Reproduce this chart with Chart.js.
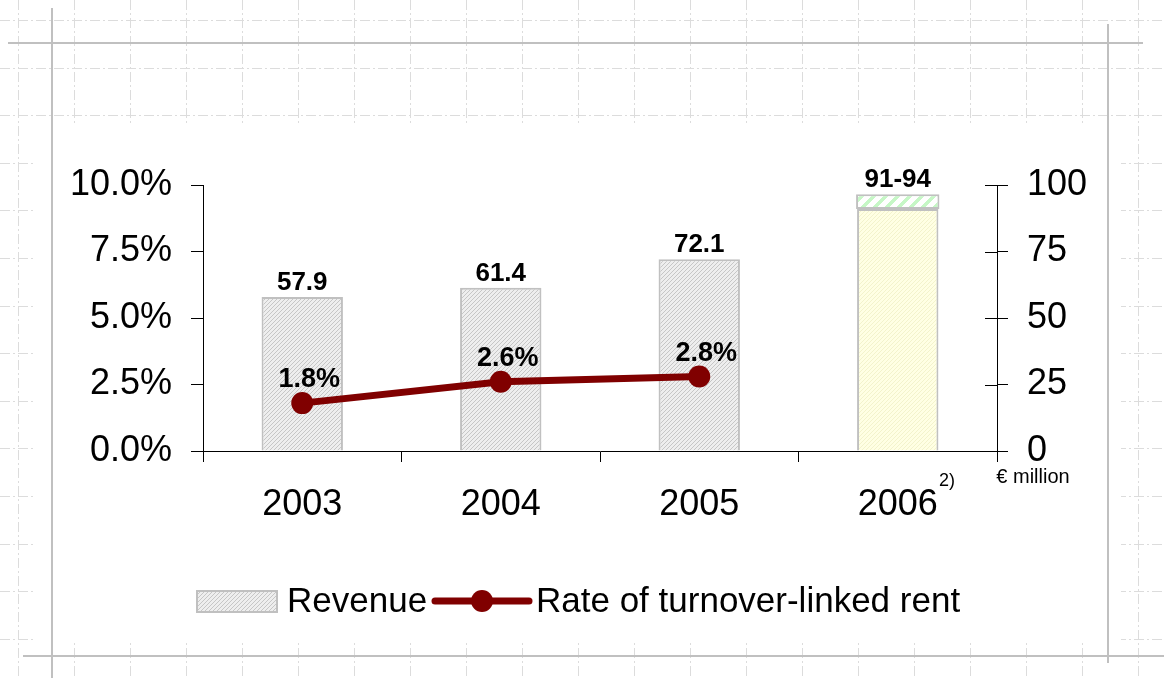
<!DOCTYPE html>
<html>
<head>
<meta charset="utf-8">
<script src="https://cdn.jsdelivr.net/npm/chart.js@4.4.1/dist/chart.umd.min.js"></script>
<style>
  html, body { margin: 0; padding: 0; background: #fff; }
  #wrap { width: 1164px; height: 678px; }
</style>
</head>
<body>
<div id="wrap"><canvas id="chart" width="1164" height="678"></canvas></div>
<script>
// Revenue and rent rate chart

const years = ["2003", "2004", "2005", "2006"];
const revenue = [57.9, 61.4, 72.1, 91];
const forecastRange = [null, null, null, [91, 96.5]];
const revenueLabels = ["57.9", "61.4", "72.1", "91-94"];
const rentRate = [1.8, 2.6, 2.8, null];

const FONT = "'Liberation Sans', Arial, sans-serif";

function makePattern(size, bg, fg, width) {
  const c = document.createElement("canvas");
  c.width = size;
  c.height = size;
  const g = c.getContext("2d");
  g.fillStyle = bg;
  g.fillRect(0, 0, size, size);
  g.fillStyle = fg;
  for (let i = 0; i < size; i++) {
    for (let w = 0; w < width; w++) {
      g.fillRect(i, (size - 1 - i + w) % size, 1, 1);
    }
  }
  return g.createPattern(c, "repeat");
}

const grayHatch = makePattern(4, "#eeeeee", "#c6c6c6", 1);
const yellowHatch = makePattern(4, "#ffffe4", "#f3f3cc", 1);
const greenHatch = makePattern(12, "#ffffff", "#c6f7c6", 5);

// slide background: dashed grid, white content area, frame lines
const slideBackground = {
  id: "slideBackground",
  beforeDraw(chart) {
    const ctx = chart.ctx;
    ctx.save();
    ctx.fillStyle = "#fff";
    ctx.fillRect(0, 0, 1164, 678);

    ctx.strokeStyle = "#dcdcdc";
    ctx.lineWidth = 1;
    ctx.setLineDash([10, 3, 2, 3]);
    for (let x = 18; x < 1164; x += 56) {
      ctx.beginPath();
      ctx.moveTo(x + 0.5, 0);
      ctx.lineTo(x + 0.5, 678);
      ctx.stroke();
    }
    for (let y = 20; y < 678; y += 47.6) {
      ctx.beginPath();
      ctx.moveTo(0, Math.round(y) + 0.5);
      ctx.lineTo(1164, Math.round(y) + 0.5);
      ctx.stroke();
    }
    ctx.setLineDash([]);
    ctx.fillStyle = "#fff";
    ctx.fillRect(33, 123, 1121 - 33, 642 - 123);

    ctx.strokeStyle = "#c0c0c0";
    ctx.lineWidth = 2;
    ctx.beginPath();
    ctx.moveTo(8, 43); ctx.lineTo(1143, 43);
    ctx.moveTo(52, 8); ctx.lineTo(52, 678);
    ctx.moveTo(1108, 24); ctx.lineTo(1108, 663);
    ctx.moveTo(23, 656); ctx.lineTo(1164, 656);
    ctx.stroke();
    ctx.restore();
  }
};

// value labels, extra axis marks, notes and legend
const annotations = {
  id: "annotations",
  afterDraw(chart) {
    const ctx = chart.ctx;
    const area = chart.chartArea;
    const y1 = chart.scales.y1;
    ctx.save();

    // inner ticks on the right axis
    ctx.strokeStyle = "#000";
    ctx.lineWidth = 1;
    y1.ticks.forEach((t) => {
      const py = Math.round(y1.getPixelForValue(t.value)) + 0.5;
      ctx.beginPath();
      ctx.moveTo(area.right - 12, py);
      ctx.lineTo(area.right, py);
      ctx.stroke();
    });

    ctx.fillStyle = "#000";
    ctx.textAlign = "center";
    ctx.textBaseline = "alphabetic";

    // revenue labels
    ctx.font = "bold 26px " + FONT;
    const bars = chart.getDatasetMeta(0).data;
    const tops = chart.getDatasetMeta(1).data;
    bars.forEach((bar, i) => {
      let top = bar.y;
      if (forecastRange[i]) top = tops[i].y;
      ctx.fillText(revenueLabels[i], bar.x, top - 7);
    });

    // rate labels
    ctx.font = "bold 27px " + FONT;
    chart.getDatasetMeta(2).data.forEach((pt, i) => {
      if (rentRate[i] == null) return;
      ctx.fillText(rentRate[i].toFixed(1) + "%", pt.x + 7, pt.y - 16);
    });

    // footnote marker and unit
    ctx.font = "18px " + FONT;
    ctx.textBaseline = "middle";
    ctx.fillText("2)", 947, 481);
    ctx.font = "20px " + FONT;
    ctx.fillText("€ million", 1033, 477);

    // legend
    ctx.fillStyle = grayHatch;
    ctx.fillRect(197, 591, 80, 21);
    ctx.strokeStyle = "#c0c0c0";
    ctx.lineWidth = 2;
    ctx.strokeRect(197, 591, 80, 21);

    ctx.strokeStyle = "#800000";
    ctx.lineWidth = 7;
    ctx.lineCap = "round";
    ctx.beginPath();
    ctx.moveTo(435, 601);
    ctx.lineTo(529, 601);
    ctx.stroke();
    ctx.fillStyle = "#800000";
    ctx.beginPath();
    ctx.arc(482, 601, 11, 0, Math.PI * 2);
    ctx.fill();

    ctx.fillStyle = "#000";
    ctx.font = "35px " + FONT;
    ctx.textAlign = "left";
    ctx.textBaseline = "alphabetic";
    ctx.fillText("Revenue", 287, 612);
    ctx.fillText("Rate of turnover-linked rent", 536, 612);

    ctx.restore();
  }
};

new Chart(document.getElementById("chart"), {
  type: "bar",
  data: {
    labels: years,
    datasets: [
      {
        label: "Revenue",
        data: revenue,
        yAxisID: "y1",
        backgroundColor: [grayHatch, grayHatch, grayHatch, yellowHatch],
        borderColor: "#c0c0c0",
        borderWidth: 2,
        borderSkipped: "bottom",
        grouped: false,
        categoryPercentage: 1,
        barPercentage: 0.41,
        order: 2,
      },
      {
        label: "Revenue range",
        data: forecastRange,
        yAxisID: "y1",
        backgroundColor: greenHatch,
        borderColor: "#c0c0c0",
        borderWidth: 2,
        borderSkipped: false,
        grouped: false,
        categoryPercentage: 1,
        barPercentage: 0.42,
        order: 1,
      },
      {
        type: "line",
        label: "Rate of turnover-linked rent",
        data: rentRate,
        yAxisID: "y",
        borderColor: "#800000",
        backgroundColor: "#800000",
        borderWidth: 7,
        pointRadius: 11,
        pointBackgroundColor: "#800000",
        pointBorderWidth: 0,
        fill: false,
        tension: 0,
        order: 0,
      },
    ],
  },
  options: {
    responsive: false,
    animation: false,
    devicePixelRatio: 1,
    layout: { padding: { top: 185, bottom: 0, left: 0, right: 0 } },
    plugins: {
      legend: { display: false },
      tooltip: { enabled: false },
    },
    scales: {
      x: {
        offset: true,
        grid: {
          offset: true,
          drawOnChartArea: false,
          tickLength: 11,
          color: "#000",
        },
        border: { color: "#000", width: 1 },
        ticks: {
          color: "#000",
          font: { family: FONT, size: 36 },
          padding: 21,
          maxRotation: 0,
        },
        afterFit(scale) {
          scale.height = 227;
        },
      },
      y: {
        position: "left",
        min: 0,
        max: 10,
        grid: { drawOnChartArea: false, tickLength: 12, color: "#000" },
        border: { color: "#000", width: 1 },
        ticks: {
          stepSize: 2.5,
          color: "#000",
          font: { family: FONT, size: 36 },
          padding: 19,
          callback: (v) => v.toFixed(1) + "%",
        },
        afterFit(scale) {
          scale.width = 203;
        },
      },
      y1: {
        position: "right",
        min: 0,
        max: 100,
        grid: { drawOnChartArea: false, tickLength: 11, color: "#000" },
        border: { color: "#000", width: 1 },
        ticks: {
          stepSize: 25,
          color: "#000",
          font: { family: FONT, size: 36 },
          padding: 19,
        },
        afterFit(scale) {
          scale.width = 167;
        },
      },
    },
  },
  plugins: [slideBackground, annotations],
});
</script>
</body>
</html>
